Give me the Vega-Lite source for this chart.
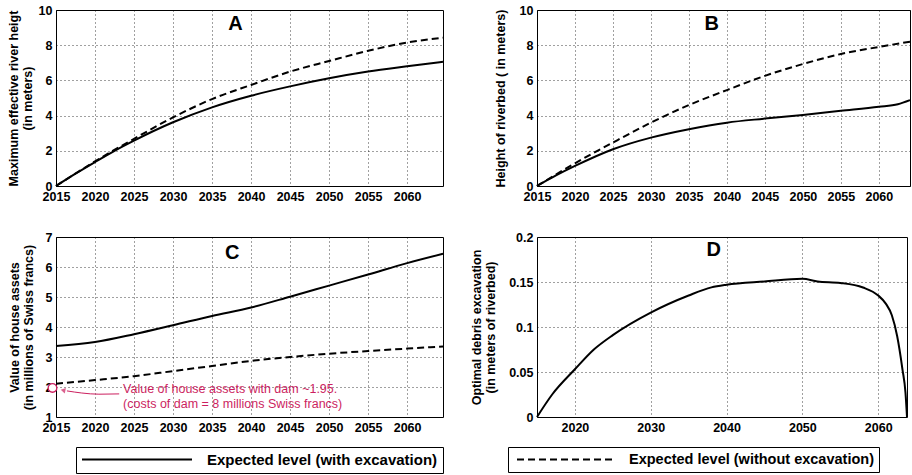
{
  "$schema": "https://vega.github.io/schema/vega-lite/v6.json",
  "background": "white",
  "padding": {"left": 6, "top": 3, "right": 0, "bottom": 0},
  "columns": 2,
  "spacing": {"column": 94, "row": 51},
  "bounds": "flush",
  "config": {
    "font": "Liberation Sans",
    "view": {"stroke": "black", "strokeWidth": 1},
    "axis": {
      "labelFont": "Liberation Sans", "labelFontWeight": "bold", "labelFontSize": 12.5, "labelColor": "black",
      "titleFont": "Liberation Sans", "titleFontWeight": "bold", "titleFontSize": 12.5, "titleColor": "black", "titleLineHeight": 14,
      "grid": true, "gridColor": "black", "gridDash": [1, 3], "gridOpacity": 0.75, "tickCount": 30,
      "domain": false, "ticks": false, "labelPadding": 4, "labelFlush": false, "labelOverlap": false
    },
    "legend": {
      "labelFont": "Liberation Sans", "labelFontSize": 14.5, "labelFontWeight": "bold", "labelColor": "black",
      "strokeColor": "black", "fillColor": "white", "padding": 5, "symbolStrokeWidth": 2,
      "symbolType": "stroke", "clipHeight": 15, "labelLimit": 0, "symbolStrokeColor": "black"
    }
  },
  "datasets": {
    "A": [
      {"year": 2015, "series": "with", "value": 0},
      {"year": 2017.5, "series": "with", "value": 0.7},
      {"year": 2020, "series": "with", "value": 1.36},
      {"year": 2022.5, "series": "with", "value": 2.0},
      {"year": 2025, "series": "with", "value": 2.58},
      {"year": 2030, "series": "with", "value": 3.62},
      {"year": 2035, "series": "with", "value": 4.47},
      {"year": 2040, "series": "with", "value": 5.13},
      {"year": 2045, "series": "with", "value": 5.66},
      {"year": 2050, "series": "with", "value": 6.12},
      {"year": 2055, "series": "with", "value": 6.5},
      {"year": 2060, "series": "with", "value": 6.8},
      {"year": 2064.6, "series": "with", "value": 7.06},
      {"year": 2015, "series": "without", "value": 0},
      {"year": 2017.5, "series": "without", "value": 0.71},
      {"year": 2020, "series": "without", "value": 1.4},
      {"year": 2025, "series": "without", "value": 2.68},
      {"year": 2030, "series": "without", "value": 3.9},
      {"year": 2035, "series": "without", "value": 4.94},
      {"year": 2040, "series": "without", "value": 5.74},
      {"year": 2045, "series": "without", "value": 6.5},
      {"year": 2050, "series": "without", "value": 7.1},
      {"year": 2055, "series": "without", "value": 7.68},
      {"year": 2060, "series": "without", "value": 8.15},
      {"year": 2064.6, "series": "without", "value": 8.43}
    ],
    "B": [
      {"year": 2015, "series": "with", "value": 0},
      {"year": 2017.5, "series": "with", "value": 0.6},
      {"year": 2020, "series": "with", "value": 1.14},
      {"year": 2025, "series": "with", "value": 2.09},
      {"year": 2030, "series": "with", "value": 2.75},
      {"year": 2035, "series": "with", "value": 3.23},
      {"year": 2040, "series": "with", "value": 3.6},
      {"year": 2045, "series": "with", "value": 3.83},
      {"year": 2050, "series": "with", "value": 4.04},
      {"year": 2055, "series": "with", "value": 4.27},
      {"year": 2060, "series": "with", "value": 4.5},
      {"year": 2062.5, "series": "with", "value": 4.65},
      {"year": 2064.1, "series": "with", "value": 4.88},
      {"year": 2015, "series": "without", "value": 0},
      {"year": 2020, "series": "without", "value": 1.29},
      {"year": 2025, "series": "without", "value": 2.47},
      {"year": 2030, "series": "without", "value": 3.6},
      {"year": 2035, "series": "without", "value": 4.6},
      {"year": 2040, "series": "without", "value": 5.45},
      {"year": 2045, "series": "without", "value": 6.26},
      {"year": 2050, "series": "without", "value": 6.93},
      {"year": 2055, "series": "without", "value": 7.5},
      {"year": 2060, "series": "without", "value": 7.9},
      {"year": 2064.1, "series": "without", "value": 8.2}
    ],
    "C": [
      {"year": 2015, "series": "with", "value": 3.37},
      {"year": 2020, "series": "with", "value": 3.5},
      {"year": 2025, "series": "with", "value": 3.76},
      {"year": 2030, "series": "with", "value": 4.06},
      {"year": 2035, "series": "with", "value": 4.37},
      {"year": 2040, "series": "with", "value": 4.65},
      {"year": 2045, "series": "with", "value": 5.01},
      {"year": 2050, "series": "with", "value": 5.38},
      {"year": 2055, "series": "with", "value": 5.75},
      {"year": 2060, "series": "with", "value": 6.13},
      {"year": 2064.6, "series": "with", "value": 6.44},
      {"year": 2015, "series": "without", "value": 2.11},
      {"year": 2020, "series": "without", "value": 2.23},
      {"year": 2025, "series": "without", "value": 2.36},
      {"year": 2030, "series": "without", "value": 2.53},
      {"year": 2035, "series": "without", "value": 2.7},
      {"year": 2040, "series": "without", "value": 2.87},
      {"year": 2045, "series": "without", "value": 3.0},
      {"year": 2050, "series": "without", "value": 3.11},
      {"year": 2055, "series": "without", "value": 3.2},
      {"year": 2060, "series": "without", "value": 3.28},
      {"year": 2064.6, "series": "without", "value": 3.35}
    ],
    "D": [
      {"year": 2015, "value": 0},
      {"year": 2017, "value": 0.025},
      {"year": 2020, "value": 0.053},
      {"year": 2022.5, "value": 0.075},
      {"year": 2025, "value": 0.091},
      {"year": 2030, "value": 0.116},
      {"year": 2035, "value": 0.135},
      {"year": 2038, "value": 0.144},
      {"year": 2040, "value": 0.147},
      {"year": 2045, "value": 0.1506},
      {"year": 2050, "value": 0.1535},
      {"year": 2052, "value": 0.1506},
      {"year": 2055, "value": 0.149},
      {"year": 2058, "value": 0.1439},
      {"year": 2060, "value": 0.135},
      {"year": 2061, "value": 0.126},
      {"year": 2061.8, "value": 0.113},
      {"year": 2062.5, "value": 0.09},
      {"year": 2063.2, "value": 0.053},
      {"year": 2063.6, "value": 0.027},
      {"year": 2063.8, "value": 0}
    ],
    "note": [
      {"year": 2023.6, "value": 1.92, "label": "Value of house assets with dam ~1.95."},
      {"year": 2023.6, "value": 1.45, "label": "(costs of dam = 8 millions Swiss francs)"}
    ],
    "arrow": [
      {"year": 2023.1, "value": 1.77},
      {"year": 2020.5, "value": 1.76},
      {"year": 2018.3, "value": 1.8},
      {"year": 2016.4, "value": 1.87}
    ],
    "arrowhead": [{"year": 2015.9, "value": 1.89}],
    "dam": [{"year": 2014.55, "value": 1.97}],
    "letterA": [{"year": 2038, "value": 9.2, "label": "A"}],
    "letterB": [{"year": 2038, "value": 9.2, "label": "B"}],
    "letterC": [{"year": 2037.6, "value": 6.46, "label": "C"}],
    "letterD": [{"year": 2038.3, "value": 0.1855, "label": "D"}]
  },
  "concat": [
    {
      "width": 387, "height": 176,
      "layer": [
        {
          "data": {"name": "A"},
          "transform": [{"filter": "datum.series == 'with'"}],
          "mark": {"type": "line", "strokeWidth": 2, "interpolate": "monotone"},
          "encoding": {
            "x": {"field": "year", "type": "quantitative", "scale": {"domain": [2015, 2064.6], "nice": false, "zero": false},
                  "axis": {"values": [2015, 2020, 2025, 2030, 2035, 2040, 2045, 2050, 2055, 2060], "format": "d", "title": null, "labelOverlap": false, "tickCount": 30}},
            "y": {"field": "value", "type": "quantitative", "scale": {"domain": [0, 10], "nice": false},
                  "axis": {"values": [0, 2, 4, 6, 8, 10], "format": "d", "title": ["Maximum effective river heigt", "(in meters)"], "titlePadding": 4, "labelOverlap": false, "tickCount": 30}},
            "color": {"datum": "Expected level (with excavation)", "type": "nominal", "scale": {"range": ["black"]},
                      "legend": {"title": null, "orient": "none", "legendX": 20, "legendY": 437, "symbolSize": 12100, "symbolOffset": 0, "labelOffset": 14, "labelFontSize": 15}}
          }
        },
        {
          "data": {"name": "A"},
          "transform": [{"filter": "datum.series == 'without'"}],
          "mark": {"type": "line", "strokeWidth": 2, "color": "black", "interpolate": "monotone"},
          "encoding": {
            "x": {"field": "year", "type": "quantitative"},
            "y": {"field": "value", "type": "quantitative"},
            "strokeDash": {"datum": "Expected level (without excavation)", "type": "nominal", "scale": {"range": [[7, 4]]},
                           "legend": {"title": null, "orient": "none", "legendX": 452, "legendY": 437, "symbolSize": 9025, "symbolOffset": 3, "labelOffset": 16}}
          }
        },
        {
          "data": {"name": "letterA"},
          "mark": {"type": "text", "fontSize": 20, "fontWeight": "bold", "font": "Liberation Sans", "color": "black"},
          "encoding": {"x": {"field": "year", "type": "quantitative"}, "y": {"field": "value", "type": "quantitative"}, "text": {"field": "label"}}
        }
      ]
    },
    {
      "width": 373, "height": 176,
      "layer": [
        {
          "data": {"name": "B"},
          "transform": [{"filter": "datum.series == 'with'"}],
          "mark": {"type": "line", "strokeWidth": 2, "color": "black", "interpolate": "monotone"},
          "encoding": {
            "x": {"field": "year", "type": "quantitative", "scale": {"domain": [2015, 2064.1], "nice": false, "zero": false},
                  "axis": {"values": [2015, 2020, 2025, 2030, 2035, 2040, 2045, 2050, 2055, 2060], "format": "d", "title": null, "labelOverlap": false, "tickCount": 30}},
            "y": {"field": "value", "type": "quantitative", "scale": {"domain": [0, 10], "nice": false},
                  "axis": {"values": [0, 2, 4, 6, 8, 10], "format": "d", "title": "Height of riverbed ( in meters)", "titlePadding": 12, "labelOverlap": false, "tickCount": 30}}
          }
        },
        {
          "data": {"name": "B"},
          "transform": [{"filter": "datum.series == 'without'"}],
          "mark": {"type": "line", "strokeWidth": 2, "color": "black", "strokeDash": [7, 4], "interpolate": "monotone"},
          "encoding": {
            "x": {"field": "year", "type": "quantitative"},
            "y": {"field": "value", "type": "quantitative"}
          }
        },
        {
          "data": {"name": "letterB"},
          "mark": {"type": "text", "fontSize": 20, "fontWeight": "bold", "font": "Liberation Sans", "color": "black"},
          "encoding": {"x": {"field": "year", "type": "quantitative"}, "y": {"field": "value", "type": "quantitative"}, "text": {"field": "label"}}
        }
      ]
    },
    {
      "width": 387, "height": 180,
      "layer": [
        {
          "data": {"name": "C"},
          "transform": [{"filter": "datum.series == 'with'"}],
          "mark": {"type": "line", "strokeWidth": 2, "color": "black", "interpolate": "monotone"},
          "encoding": {
            "x": {"field": "year", "type": "quantitative", "scale": {"domain": [2015, 2064.6], "nice": false, "zero": false},
                  "axis": {"values": [2015, 2020, 2025, 2030, 2035, 2040, 2045, 2050, 2055, 2060], "format": "d", "title": null, "labelOverlap": false, "tickCount": 30}},
            "y": {"field": "value", "type": "quantitative", "scale": {"domain": [1, 7], "nice": false, "zero": false},
                  "axis": {"values": [1, 2, 3, 4, 5, 6, 7], "format": "d", "title": ["Value of house assets", "(in millions of Swiss francs)"], "titlePadding": 10, "labelOverlap": false, "tickCount": 30}}
          }
        },
        {
          "data": {"name": "C"},
          "transform": [{"filter": "datum.series == 'without'"}],
          "mark": {"type": "line", "strokeWidth": 2, "color": "black", "strokeDash": [7, 4], "interpolate": "monotone"},
          "encoding": {
            "x": {"field": "year", "type": "quantitative"},
            "y": {"field": "value", "type": "quantitative"}
          }
        },
        {
          "data": {"name": "arrow"},
          "mark": {"type": "line", "strokeWidth": 1, "color": "#cc1f5f", "interpolate": "monotone"},
          "encoding": {
            "x": {"field": "year", "type": "quantitative"},
            "y": {"field": "value", "type": "quantitative"}
          }
        },
        {
          "data": {"name": "arrowhead"},
          "mark": {"type": "point", "shape": "triangle-left", "filled": true, "color": "#cc1f5f", "size": 30, "angle": 12},
          "encoding": {
            "x": {"field": "year", "type": "quantitative"},
            "y": {"field": "value", "type": "quantitative"}
          }
        },
        {
          "data": {"name": "dam"},
          "mark": {"type": "point", "shape": "circle", "filled": false, "stroke": "#cc1f5f", "fill": "white", "fillOpacity": 1, "strokeWidth": 1.3, "size": 75, "clip": false, "opacity": 1},
          "encoding": {
            "x": {"field": "year", "type": "quantitative"},
            "y": {"field": "value", "type": "quantitative"}
          }
        },
        {
          "data": {"name": "note"},
          "mark": {"type": "text", "align": "left", "baseline": "middle", "fontSize": 12.5, "font": "Liberation Sans", "color": "#cc1f5f"},
          "encoding": {
            "x": {"field": "year", "type": "quantitative"},
            "y": {"field": "value", "type": "quantitative"},
            "text": {"field": "label"}
          }
        },
        {
          "data": {"name": "letterC"},
          "mark": {"type": "text", "fontSize": 20, "fontWeight": "bold", "font": "Liberation Sans", "color": "black"},
          "encoding": {"x": {"field": "year", "type": "quantitative"}, "y": {"field": "value", "type": "quantitative"}, "text": {"field": "label"}}
        }
      ]
    },
    {
      "width": 370, "height": 180,
      "layer": [
        {
          "data": {"name": "D"},
          "mark": {"type": "line", "strokeWidth": 2, "color": "black", "interpolate": "monotone"},
          "encoding": {
            "x": {"field": "year", "type": "quantitative", "scale": {"domain": [2015, 2063.8], "nice": false, "zero": false},
                  "axis": {"values": [2020, 2030, 2040, 2050, 2060], "format": "d", "title": null, "labelOverlap": false, "tickCount": 30}},
            "y": {"field": "value", "type": "quantitative", "scale": {"domain": [0, 0.2], "nice": false},
                  "axis": {"values": [0, 0.05, 0.1, 0.15, 0.2], "format": ".2~f", "title": ["Optimal debris excavation", "(in meters of riverbed)"], "titlePadding": 11, "labelOverlap": false, "tickCount": 30}}
          }
        },
        {
          "data": {"name": "letterD"},
          "mark": {"type": "text", "fontSize": 20, "fontWeight": "bold", "font": "Liberation Sans", "color": "black"},
          "encoding": {"x": {"field": "year", "type": "quantitative"}, "y": {"field": "value", "type": "quantitative"}, "text": {"field": "label"}}
        }
      ]
    }
  ]
}
